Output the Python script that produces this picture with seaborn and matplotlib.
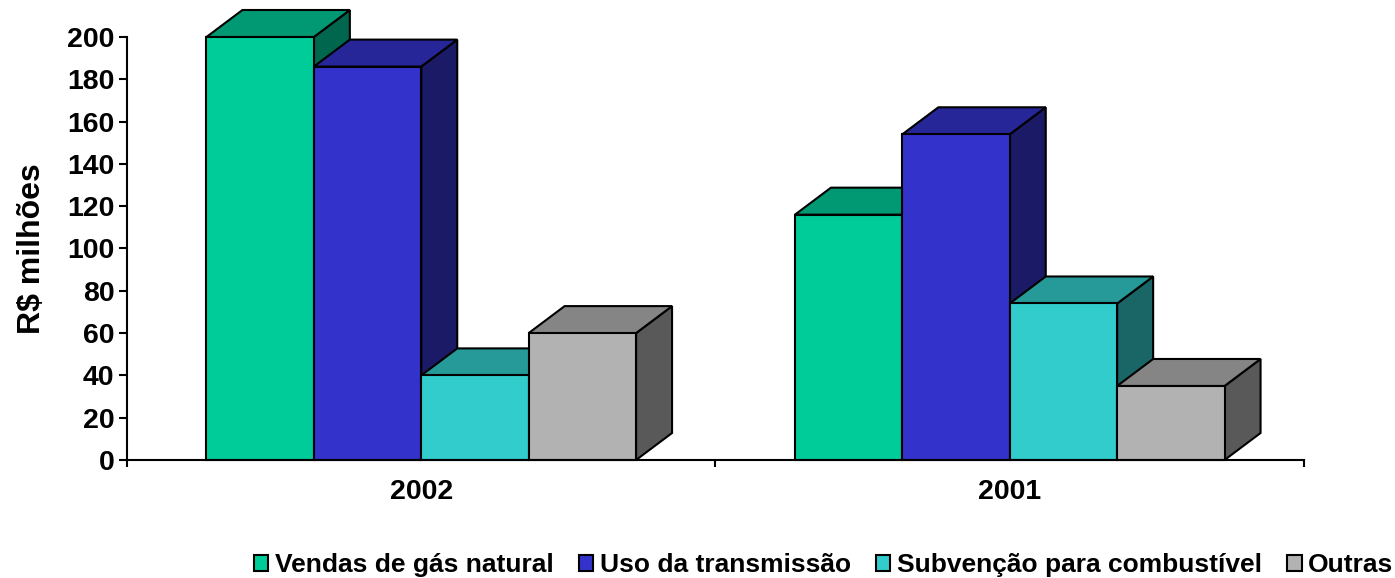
import pandas as pd
import numpy as np
import matplotlib.pyplot as plt
import seaborn as sns
from matplotlib.patches import Polygon, Patch
from matplotlib.colors import to_rgb

anos = ['2002', '2001']
series = ['Vendas de gás natural', 'Uso da transmissão', 'Subvenção para combustível', 'Outras']
vendas = [200, 116]
transmissao = [186, 154]
subvencao = [40, 74]
outras = [60, 35]
cores = ['#00CC99', '#3333CC', '#33CCCC', '#B2B2B2']
y_ticks = list(range(0, 201, 20))

df = pd.DataFrame({
    'ano': anos * 4,
    'serie': [s for s in series for _ in anos],
    'valor': vendas + transmissao + subvencao + outras,
})

sns.set_theme(style='white')
plt.rcParams['font.family'] = ['Liberation Sans', 'DejaVu Sans']
plt.rcParams['font.weight'] = 'bold'

W, H = 1395, 578
lw = 1.5
fig = plt.figure(figsize=(W / 100, H / 100), dpi=100)
ax = fig.add_axes([127 / W, 1 - 460 / H, (1304 - 127) / W, (460 - 37) / H])

sns.barplot(data=df, x='ano', y='valor', hue='serie', hue_order=series, order=anos,
            palette=cores, width=0.73, gap=0, saturation=1, edgecolor='black',
            linewidth=lw, legend=False, ax=ax)

ax.set_xlim(-0.5, 1.5)
ax.set_ylim(0, 200)

# fake 3d depth, drawn from the real bars (left to right so the next bar covers it)
depth_x = 36 / 588.5
depth_y = 27 / 2.115
bars = [p for p in ax.patches if p.get_height() > 0]
bars = sorted(bars, key=lambda p: p.get_x())
for i, b in enumerate(bars):
    x0, x1 = b.get_x(), b.get_x() + b.get_width()
    top = b.get_height()
    c = np.array(to_rgb(b.get_facecolor()))
    z = 3 + i
    b.set_zorder(z + 0.5)
    b.set_clip_on(False)
    side = Polygon([(x1, 0), (x1 + depth_x, depth_y), (x1 + depth_x, top + depth_y), (x1, top)],
                   closed=True, facecolor=c * 0.5, edgecolor='black', lw=lw, zorder=z, clip_on=False)
    roof = Polygon([(x0, top), (x0 + depth_x, top + depth_y), (x1 + depth_x, top + depth_y), (x1, top)],
                   closed=True, facecolor=c * 0.75, edgecolor='black', lw=lw, zorder=z, clip_on=False)
    ax.add_patch(side)
    ax.add_patch(roof)

sns.despine(ax=ax)
for s in ['left', 'bottom']:
    ax.spines[s].set_color('black')
    ax.spines[s].set_linewidth(lw)
    ax.spines[s].set_zorder(20)

ax.set_yticks(y_ticks)
ax.tick_params(axis='y', left=True, length=6, width=lw, color='black', labelsize=20.5, pad=3, labelcolor='black')
ax.set_xticks([0, 1])
ax.set_xticks([-0.5, 0.5, 1.5], minor=True)
ax.tick_params(axis='x', which='major', bottom=False, labelsize=20.5, pad=8, labelcolor='black')
ax.tick_params(axis='x', which='minor', bottom=True, length=5, width=lw, color='black')
ax.set_xlabel('')
ax.set_ylabel('R$ milhões', fontsize=23, fontweight='bold', color='black', labelpad=0)
ax.yaxis.set_label_coords(-80 / (1304 - 127), (460 - 249) / (460 - 37))

handles = [Patch(facecolor=c, edgecolor='black', lw=lw) for c in cores]
fig.legend(handles, series, loc='lower right', bbox_to_anchor=(1396 / W, -2 / H), ncol=4, frameon=False,
           fontsize=19, handlelength=0.55, handleheight=0.55, handletextpad=0.25, columnspacing=0.95,
           borderaxespad=0, borderpad=0.1, labelcolor='black')

fig.savefig('out.png', dpi=100)
